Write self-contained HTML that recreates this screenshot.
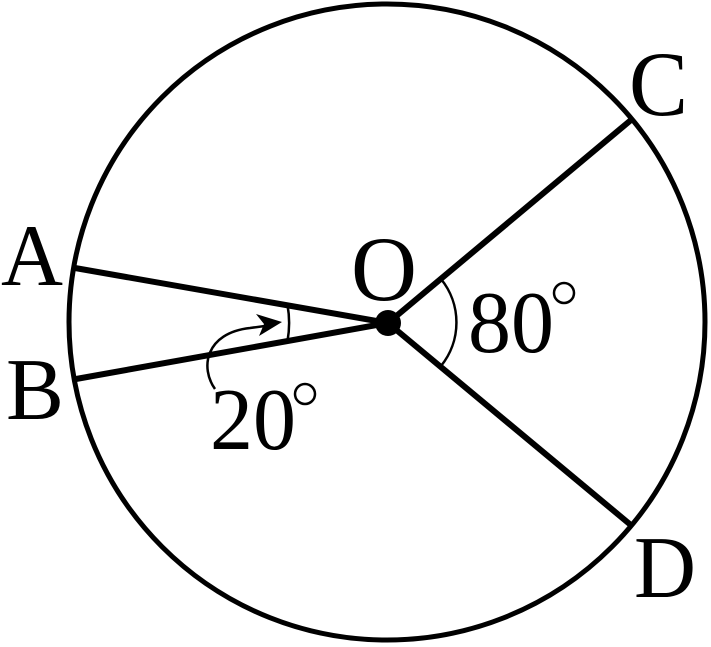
<!DOCTYPE html>
<html><head><style>
html,body{margin:0;padding:0;background:#fff;}
svg{display:block;}
text{font-family:"Liberation Serif",serif;fill:#000;}
</style></head><body>
<svg width="711" height="647" viewBox="0 0 711 647" xmlns="http://www.w3.org/2000/svg">
<circle cx="387" cy="322" r="318" fill="none" stroke="#000" stroke-width="5"/>
<g stroke="#000" stroke-width="6" stroke-linecap="butt" fill="none">
<line x1="75" y1="268" x2="388" y2="323"/>
<line x1="76" y1="379" x2="388" y2="323"/>
<line x1="631" y1="120" x2="388" y2="323"/>
<line x1="632" y1="526" x2="388" y2="323"/>
</g>
<circle cx="388" cy="323" r="13" fill="#000"/>
<g stroke="#000" stroke-width="2.5" fill="none">
<path d="M287.5,305 A101,101 0 0 1 287.5,341"/>
<path d="M441,279 A69,69 0 0 1 441,366"/>
<path d="M215,389 C200,368 205,333 250,328 L272,325"/>
<circle cx="564" cy="293" r="10"/>
<circle cx="305" cy="394" r="10"/>
</g>
<path d="M282,322 L256,314 L264,324 L259,336 Z" fill="#000"/>
<text x="1" y="285" font-size="88" textLength="62" lengthAdjust="spacingAndGlyphs">A</text>
<text x="6" y="419" font-size="88" textLength="58" lengthAdjust="spacingAndGlyphs">B</text>
<text x="629" y="115" font-size="92" textLength="59" lengthAdjust="spacingAndGlyphs">C</text>
<text x="634" y="597" font-size="88" textLength="62" lengthAdjust="spacingAndGlyphs">D</text>
<text x="351" y="300" font-size="92" textLength="66" lengthAdjust="spacingAndGlyphs">O</text>
<text x="468" y="352" font-size="88" textLength="86" lengthAdjust="spacingAndGlyphs">80</text>
<text x="210" y="449" font-size="88" textLength="86" lengthAdjust="spacingAndGlyphs">20</text>
</svg>
</body></html>
